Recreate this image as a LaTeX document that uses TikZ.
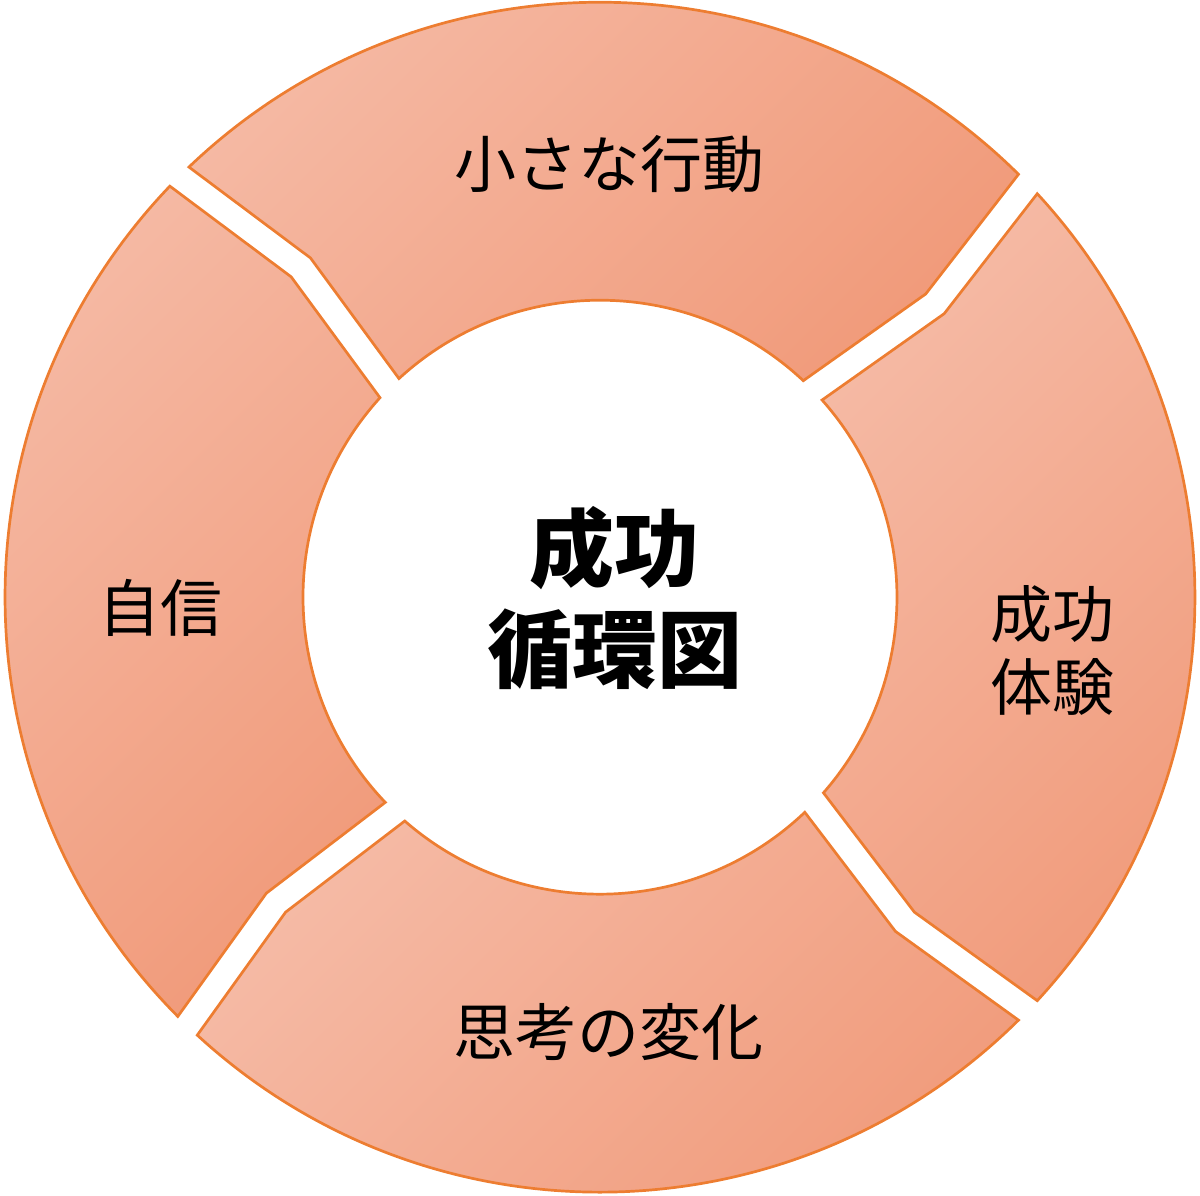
\documentclass[tikz,border=0pt]{standalone}
\usepackage{fontspec}
\newfontfamily\jp{Noto Sans CJK JP}
\definecolor{ringline}{HTML}{ED7D31}
\definecolor{seglight}{HTML}{F5BAA5}
\definecolor{segdark}{HTML}{F19B7B}
\begin{document}
\begin{tikzpicture}[x=1pt,y=1pt,
  seg/.style={draw=ringline, line width=2.7pt, line join=miter,
    top color=seglight, bottom color=segdark, shading angle=45},
  lab/.style={font=\jp\fontsize{62}{73}\selectfont, align=center, text=black, inner sep=0pt},
  ctr/.style={font=\jp\bfseries\fontsize{85}{101}\selectfont, align=center, text=black, inner sep=0pt}]
\useasboundingbox (-600,-598.8) rectangle (600,597.2);
% \a = gap at the counter-clockwise end, \b = gap at the clockwise end
\foreach \a/\b in {135/44, 44/-44, -44/-133.9, 226.1/135}{
  \path[seg] ({\a-1.3}:595)
    arc[start angle={\a-1.3}, end angle={\b+1.3}, radius=595]
    -- ({\b-1.05}:445) -- ({\b+2.8}:297)
    arc[start angle={\b+2.8}, end angle={\a-2.4}, radius=297]
    -- ({\a-4.52}:446) -- cycle;
}
\node[lab] (action) at (9.5,433) {小さな行動};
\node[lab] (success) at (452,-52.8) {成功\\体験};
\node[lab] (thinking) at (9,-434.5) {思考の変化};
\node[lab] (confidence) at (-439,-10.8) {自信};
\node[ctr] (center) at (15,-0.8) {成功\\循環図};
\end{tikzpicture}
\end{document}
